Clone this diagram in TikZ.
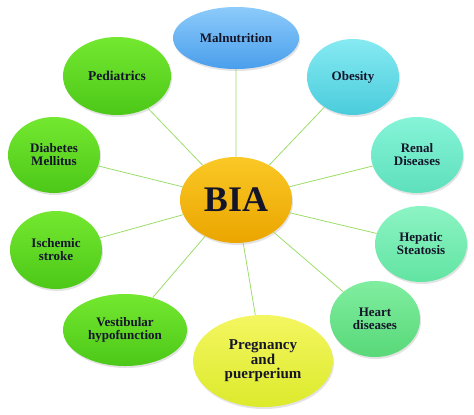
\documentclass[tikz,border=0pt]{standalone}
\usepackage{fontspec}
\setmainfont{Liberation Serif}
\usetikzlibrary{shapes.geometric,shadows}
\definecolor{linkgreen}{HTML}{9CDD6A}
\definecolor{inkdark}{HTML}{15152A}
\definecolor{biatop}{HTML}{FAC825}
\definecolor{biabot}{HTML}{EBA500}
\definecolor{maltop}{HTML}{8CCBFA}
\definecolor{malbot}{HTML}{4A9EEC}
\definecolor{grntop}{HTML}{74E830}
\definecolor{grnbot}{HTML}{4CC818}
\definecolor{obetop}{HTML}{86EAF2}
\definecolor{obebot}{HTML}{4ACCDC}
\definecolor{rentop}{HTML}{86F4D8}
\definecolor{renbot}{HTML}{5EE0BC}
\definecolor{heptop}{HTML}{8CF4C4}
\definecolor{hepbot}{HTML}{62E4A2}
\definecolor{heatop}{HTML}{80EEA0}
\definecolor{heabot}{HTML}{58D878}
\definecolor{pretop}{HTML}{F4F660}
\definecolor{prebot}{HTML}{DCEA2C}
\begin{document}
\begin{tikzpicture}[scale=0.3514]
\tikzstyle{every node}+=[inner sep=0pt]
\tikzstyle{topic}=[ellipse, align=center, text=inkdark, font=\bfseries\fontsize{13}{13}\selectfont, drop shadow={opacity=0.22, shadow xshift=1pt, shadow yshift=-2pt}]
\tikzstyle{link}=[linkgreen, line width=0.8pt]
\useasboundingbox (0,0) rectangle (47.4,-41.4);
\node [topic, minimum width=112pt, minimum height=86pt, top color=biatop, bottom color=biabot, font=\bfseries\fontsize{36}{36}\selectfont] (bia) at (23.6,-20.0) {BIA};
\node [topic, minimum width=126pt, minimum height=62pt, top color=maltop, bottom color=malbot] (mal) at (23.6,-3.8) {Malnutrition};
\node [topic, minimum width=108pt, minimum height=78pt, top color=grntop, bottom color=grnbot, font=\bfseries\fontsize{13.5}{13.5}\selectfont] (ped) at (11.7,-7.6) {Pediatrics};
\node [topic, minimum width=92pt, minimum height=76pt, top color=obetop, bottom color=obebot] (obe) at (35.3,-7.7) {Obesity};
\node [topic, minimum width=92pt, minimum height=76pt, top color=grntop, bottom color=grnbot] (dia) at (5.4,-15.5) {Diabetes\\Mellitus};
\node [topic, minimum width=92pt, minimum height=76pt, top color=rentop, bottom color=renbot] (ren) at (41.7,-15.5) {Renal\\Diseases};
\node [topic, minimum width=92pt, minimum height=78pt, top color=grntop, bottom color=grnbot] (isc) at (5.6,-25.0) {Ischemic\\stroke};
\node [topic, minimum width=92pt, minimum height=76pt, top color=heptop, bottom color=hepbot] (hep) at (42.1,-24.4) {Hepatic\\Steatosis};
\node [topic, minimum width=90pt, minimum height=76pt, top color=heatop, bottom color=heabot] (hea) at (37.5,-31.9) {Heart\\diseases};
\node [topic, minimum width=124pt, minimum height=72pt, top color=grntop, bottom color=grnbot] (ves) at (12.5,-33.0) {Vestibular\\hypofunction};
\node [topic, minimum width=140pt, minimum height=92pt, top color=pretop, bottom color=prebot, font=\bfseries\fontsize{15}{14.5}\selectfont] (pre) at (26.3,-36.1) {Pregnancy\\and\\puerperium};
\draw [link] (bia) -- (mal);
\draw [link] (bia) -- (ped);
\draw [link] (bia) -- (obe);
\draw [link] (bia) -- (dia);
\draw [link] (bia) -- (ren);
\draw [link] (bia) -- (isc);
\draw [link] (bia) -- (hep);
\draw [link] (bia) -- (hea);
\draw [link] (bia) -- (ves);
\draw [link] (bia) -- (pre);
\end{tikzpicture}
\end{document}
